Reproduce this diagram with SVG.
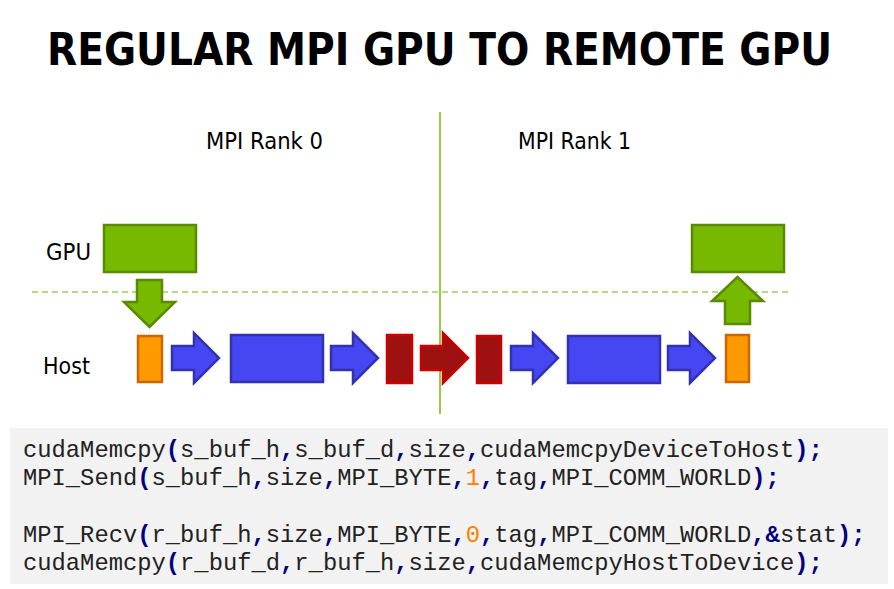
<svg xmlns="http://www.w3.org/2000/svg" xmlns:xlink="http://www.w3.org/1999/xlink" width="894" height="589" viewBox="0 0 894 589">
<style>
.title{font-family:"DejaVu Sans Condensed","DejaVu Sans",sans-serif;font-weight:bold;font-size:45px;fill:#000}
.rank{font-family:"DejaVu Sans Condensed","DejaVu Sans",sans-serif;font-size:23px;fill:#000}
.lbl{font-family:"DejaVu Sans",sans-serif;font-size:23px;fill:#000}
.gpu{fill:#76B900;stroke:#5A8A00;stroke-width:2.5}
.org{fill:#FF9900;stroke:#CC6600;stroke-width:2.5}
.blu{fill:#4646F2;stroke:#3232B0;stroke-width:2.5}
.red{fill:#9E1111;stroke:#CC0000;stroke-width:2.5}
.code{font-family:"Liberation Mono","Courier New",monospace;font-size:23.8px;fill:#222;white-space:pre}
.op{fill:#000080;font-weight:bold}
.num{fill:#FF8000}
</style>
<defs>
<path id="rarrow" d="M0,-12 H22 V-25 L47,0 L22,25 V12 H0 Z"/>
</defs>
<rect x="0" y="0" width="894" height="589" fill="#fff"/>
<g id="title"><text class="title" x="47" y="65" textLength="785" lengthAdjust="spacingAndGlyphs">REGULAR MPI GPU TO REMOTE GPU</text></g>
<g id="rank-labels">
<text class="rank" x="206" y="149" textLength="117" lengthAdjust="spacingAndGlyphs">MPI Rank 0</text>
<text class="rank" x="518" y="149" textLength="113" lengthAdjust="spacingAndGlyphs">MPI Rank 1</text>
</g>
<g id="row-labels">
<text class="lbl" x="46" y="260" textLength="45" lengthAdjust="spacingAndGlyphs">GPU</text>
<text class="lbl" x="43" y="374" textLength="47" lengthAdjust="spacingAndGlyphs">Host</text>
</g>
<g id="dividers">
<line x1="32" y1="292" x2="792" y2="292" stroke="#9CCF55" stroke-width="1.5" stroke-dasharray="6,4"/>
<line x1="440" y1="112" x2="440" y2="414" stroke="#76B900" stroke-width="1.5"/>
</g>
<g id="gpu0"><rect class="gpu" x="104" y="225" width="92" height="47"/></g>
<g id="gpu1"><rect class="gpu" x="692" y="225" width="92" height="47"/></g>
<g id="host0-buf"><rect class="org" x="138" y="336" width="24" height="46"/></g>
<g id="host0-mpi"><rect class="blu" x="231" y="335" width="92" height="47"/></g>
<g id="host0-net"><rect class="red" x="387" y="335" width="25" height="48"/></g>
<g id="host1-net"><rect class="red" x="477" y="336" width="24" height="47"/></g>
<g id="host1-mpi"><rect class="blu" x="568" y="336" width="92" height="47"/></g>
<g id="host1-buf"><rect class="org" x="726" y="335" width="23" height="47"/></g>
<g id="connectors">
<polygon class="gpu" points="137,280 162,280 162,302 175,302 149.5,327 124,302 137,302"/>
<polygon class="gpu" points="725,324 750,324 750,301 763,301 737.5,277 712,301 725,301"/>
<use xlink:href="#rarrow" class="blu" transform="translate(172,358)"/>
<use xlink:href="#rarrow" class="blu" transform="translate(331,358)"/>
<use xlink:href="#rarrow" class="red" transform="translate(421,358)"/>
<use xlink:href="#rarrow" class="blu" transform="translate(511,358)"/>
<use xlink:href="#rarrow" class="blu" transform="translate(668,358)"/>
</g>
<g id="code">
<rect x="10" y="428" width="878" height="156" fill="#F2F2F2"/>
<text class="code" x="23" y="457">cudaMemcpy<tspan class="op">(</tspan>s_buf_h<tspan class="op">,</tspan>s_buf_d<tspan class="op">,</tspan>size<tspan class="op">,</tspan>cudaMemcpyDeviceToHost<tspan class="op">);</tspan></text>
<text class="code" x="23" y="485">MPI_Send<tspan class="op">(</tspan>s_buf_h<tspan class="op">,</tspan>size<tspan class="op">,</tspan>MPI_BYTE<tspan class="op">,</tspan><tspan class="num">1</tspan><tspan class="op">,</tspan>tag<tspan class="op">,</tspan>MPI_COMM_WORLD<tspan class="op">);</tspan></text>
<text class="code" x="23" y="542">MPI_Recv<tspan class="op">(</tspan>r_buf_h<tspan class="op">,</tspan>size<tspan class="op">,</tspan>MPI_BYTE<tspan class="op">,</tspan><tspan class="num">0</tspan><tspan class="op">,</tspan>tag<tspan class="op">,</tspan>MPI_COMM_WORLD<tspan class="op">,&amp;</tspan>stat<tspan class="op">);</tspan></text>
<text class="code" x="23" y="570">cudaMemcpy<tspan class="op">(</tspan>r_buf_d<tspan class="op">,</tspan>r_buf_h<tspan class="op">,</tspan>size<tspan class="op">,</tspan>cudaMemcpyHostToDevice<tspan class="op">);</tspan></text>
</g>
</svg>
